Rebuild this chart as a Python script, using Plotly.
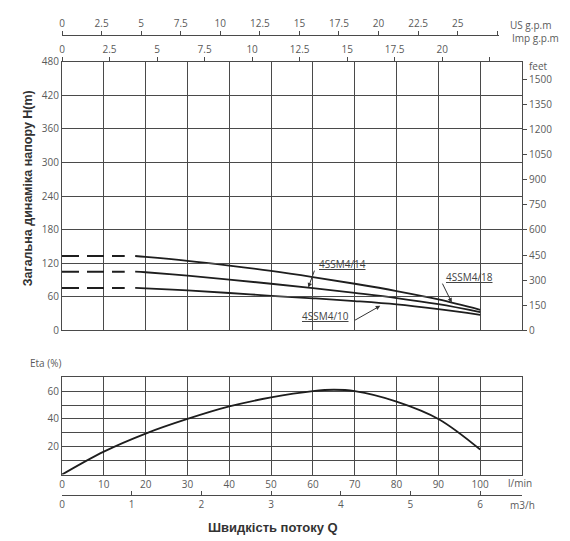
import plotly.graph_objects as go

# расход, l/min
q_shutoff = [0, 15]
q_curve = [17.5, 20, 30, 40, 50, 60, 70, 80, 90, 100]

# напор H(m) для трёх насосов
h_18 = [133, 131.5, 124.5, 116, 106.5, 95.5, 83.5, 70.5, 55.5, 37]
h_14 = [105, 104, 98, 91, 83.5, 75.5, 67, 58, 47, 33]
h_10 = [76, 75.3, 71.5, 67, 62, 57.5, 52.5, 46.5, 38, 28]
pump_names = ['4SSM4/18', '4SSM4/14', '4SSM4/10']

# ККД
q_eta = [0, 10, 20, 30, 40, 50, 60, 65, 70, 80, 90, 100]
eta = [0, 16.5, 29.5, 40, 49, 55.5, 60, 61, 60, 52.5, 40, 18]

# шкали
lmin_ticks = [0, 10, 20, 30, 40, 50, 60, 70, 80, 90, 100]
h_ticks = [0, 60, 120, 180, 240, 300, 360, 420, 480]
feet_ticks = [0, 150, 300, 450, 600, 750, 900, 1050, 1200, 1350, 1500]
eta_ticks = [0, 10, 20, 30, 40, 50, 60, 70]
eta_labels = ['', '', '20', '', '40', '', '60', '']
us_ticks = [0, 2.5, 5, 7.5, 10, 12.5, 15, 17.5, 20, 22.5, 25, 27.5]
us_labels = ['0', '2.5', '5', '7.5', '10', '12.5', '15', '17.5', '20', '22.5', '25', '']
imp_ticks = [0, 2.5, 5, 7.5, 10, 12.5, 15, 17.5, 20, 22.5]
imp_labels = ['0', '2.5', '5', '7.5', '10', '12.5', '15', '17.5', '20', '']
m3h_ticks = [0, 1, 2, 3, 4, 5, 6]

Q_MAX = 110
US = 3.785
IMP = 4.546

# сторінка має відступ body 8px, тому фігура трохи менша за вікно
OFF = 8
W, H = 570 - OFF, 541 - OFF
L = 62 - OFF
R = W - (522 - OFF)


def py(p):  # рядок пікселя у вікні -> paper y
    return (H - (p - OFF)) / H


def px(p):  # стовпець пікселя у вікні -> paper x
    return (p - OFF - L) / (W - L - R)


grid = '#4a4a4a'
lab = '#5a5a5a'
tick_font = dict(family='Open Sans', size=10, color=lab)
curve = dict(color='#1e1e1e', width=1.8)

fig = go.Figure()

for h in [h_18, h_14, h_10]:
    fig.add_trace(go.Scatter(x=q_shutoff, y=[h[0], h[0]], mode='lines',
                             line=dict(color='#1e1e1e', width=2, dash='17px,8px'),
                             xaxis='x', yaxis='y', showlegend=False, hoverinfo='skip'))
for h, name in zip([h_18, h_14, h_10], pump_names):
    fig.add_trace(go.Scatter(x=q_curve, y=h, mode='lines', name=name,
                             line=dict(shape='spline', **curve),
                             xaxis='x', yaxis='y', showlegend=False))

fig.add_trace(go.Scatter(x=q_eta, y=eta, mode='lines', name='Eta',
                         line=dict(shape='spline', **curve),
                         xaxis='x2', yaxis='y2', showlegend=False))

# порожні сліди, щоб додаткові шкали були намальовані
for xa, ya, vals in [('x3', 'y', imp_ticks), ('x4', 'y', us_ticks), ('x5', 'y2', m3h_ticks)]:
    fig.add_trace(go.Scatter(x=vals, y=[None] * len(vals), mode='lines', xaxis=xa, yaxis=ya,
                             showlegend=False, hoverinfo='skip'))
fig.add_trace(go.Scatter(x=[None] * len(feet_ticks), y=feet_ticks, mode='lines',
                         xaxis='x', yaxis='y3', showlegend=False, hoverinfo='skip'))

top_dom = [py(332), py(56)]
bot_dom = [py(480), py(380)]

frame = dict(showline=True, linecolor=grid, linewidth=1, mirror=True,
             showgrid=True, gridcolor=grid, gridwidth=1, zeroline=False)
extra = dict(showgrid=False, zeroline=False, tickcolor=grid, tickfont=tick_font)

fig.update_layout(
    width=W, height=H,
    margin=dict(l=L, r=R, t=0, b=0),
    paper_bgcolor='white', plot_bgcolor='rgba(0,0,0,0)',
    font=tick_font,
    xaxis=dict(domain=[0, 1], anchor='y', range=[0, Q_MAX], tickvals=lmin_ticks,
               showticklabels=False, ticks='', **frame),
    yaxis=dict(domain=top_dom, anchor='x', range=[0, 480], tickvals=h_ticks,
               ticks='', tickfont=tick_font, **frame),
    yaxis3=dict(overlaying='y', side='right', anchor='x', range=[0, 1603],
                tickvals=feet_ticks, ticks='outside', ticklen=4,
                showline=True, linecolor=grid, **extra),
    xaxis3=dict(overlaying='x', side='top', anchor='y', range=[0, Q_MAX / IMP],
                tickvals=imp_ticks, ticktext=imp_labels, ticks='outside', ticklen=4,
                showline=False, **extra),
    xaxis4=dict(anchor='free', position=py(28.3), side='top', domain=[0, 0.95],
                range=[0, 0.95 * Q_MAX / US], tickvals=us_ticks, ticktext=us_labels,
                ticks='outside', ticklen=4, showline=True, linecolor=grid, **extra),
    xaxis2=dict(domain=[0, 1], anchor='y2', range=[0, Q_MAX], tickvals=lmin_ticks,
                ticks='', tickfont=tick_font, **frame),
    yaxis2=dict(domain=bot_dom, anchor='x2', range=[0, 70], tickvals=eta_ticks,
                ticktext=eta_labels, ticks='', tickfont=tick_font, **frame),
    xaxis5=dict(overlaying='x2', anchor='free', position=py(500.5), side='bottom',
                range=[0, Q_MAX * 0.06], tickvals=m3h_ticks, ticks='inside', ticklen=4,
                showline=True, linecolor=grid, **extra),
)

# підписи осей
notes = [
    dict(text='US g.p.m', x=px(508), y=py(18), xanchor='left'),
    dict(text='Imp g.p.m', x=px(510), y=py(32), xanchor='left'),
    dict(text='feet', x=px(527), y=py(60), xanchor='left'),
    dict(text='Eta (%)', x=px(28), y=py(365), xanchor='left'),
    dict(text='l/min', x=px(520), y=py(489), xanchor='center'),
    dict(text='m3/h', x=px(522), y=py(511), xanchor='center'),
]
for n in notes:
    fig.add_annotation(xref='paper', yref='paper', yanchor='middle', showarrow=False,
                       font=tick_font, **n)

fig.add_annotation(xref='paper', yref='paper', x=px(28), y=py(186), textangle=-90,
                   xanchor='center', yanchor='middle',
                   text='<b>Загальна динаміка напору H(m)</b>', showarrow=False,
                   font=dict(family='Liberation Sans', size=12.5, color='#333333'))
fig.add_annotation(xref='paper', yref='paper', x=px(273), y=py(534),
                   xanchor='center', yanchor='middle',
                   text='<b>Швидкість потоку Q</b>', showarrow=False,
                   font=dict(family='Liberation Sans', size=13, color='#333333'))

# позначки кривих: текст, хвіст стрілки, вістря
labels = [
    ('4SSM4/14', 61, 118, 60.5, 109.6, 58.9, 77),
    ('4SSM4/18', 91.4, 95, 90.8, 86.4, 93.2, 50),
    ('4SSM4/10', 57, 26, 69.7, 16.9, 76.1, 44),
]
for name, tx, ty, ax, ay, hx, hy in labels:
    fig.add_annotation(xref='x', yref='y', x=tx, y=ty, xanchor='left', yanchor='middle',
                       text='<u>' + name + '</u>', showarrow=False,
                       font=dict(family='Open Sans', size=10, color='#444444'))
    fig.add_annotation(xref='x', yref='y', x=hx, y=hy, axref='x', ayref='y', ax=ax, ay=ay,
                       text='', showarrow=True, arrowhead=2, arrowsize=0.9,
                       arrowwidth=1, arrowcolor='#333333', standoff=0)

fig.write_html('out.html')
